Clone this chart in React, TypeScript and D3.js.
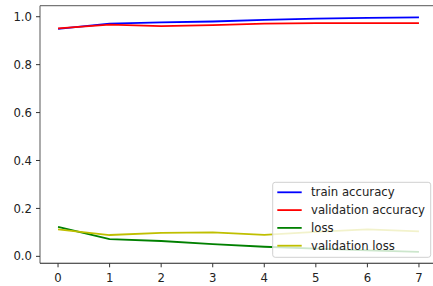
import React from "react";
import * as d3 from "d3";

// epochs and history values
const epochs = [0, 1, 2, 3, 4, 5, 6, 7];
const trainAcc = [0.949, 0.971, 0.976, 0.98, 0.987, 0.992, 0.995, 0.997];
const valAcc = [0.951, 0.967, 0.961, 0.965, 0.971, 0.973, 0.973, 0.973];
const loss = [0.123, 0.072, 0.064, 0.051, 0.04, 0.032, 0.025, 0.019];
const valLoss = [0.1125, 0.089, 0.098, 0.1, 0.09, 0.1025, 0.1125, 0.104];
const yTicks = [0, 0.2, 0.4, 0.6, 0.8, 1.0];
const seriesNames = ["train accuracy", "validation accuracy", "loss", "validation loss"];
const seriesColors = ["#0000ff", "#ff0000", "#008000", "#bfbf00"];

export default function App() {
  const width = 433;
  const height = 286;
  const left = 40;
  const right = 437;
  const top = 5.7;
  const bottom = 263.3;
  const font = "DejaVu Sans, sans-serif";
  const fs = 11.7;

  const x = d3.scaleLinear().domain([-0.35, 7.35]).range([left, right]);
  const y = d3.scaleLinear().domain([-0.029, 1.046]).range([bottom, top]);

  const line = d3
    .line<number>()
    .x((_, i) => x(epochs[i]))
    .y((d) => y(d));

  const series = [trainAcc, valAcc, loss, valLoss];

  // legend box
  const lg = { x: 272.7, y: 182.3, w: 158, h: 75 };
  const rowStep = 17.8;

  return (
    <svg
      width={width}
      height={height}
      style={{ position: "absolute", left: 0, top: 0, background: "#fff" }}
      fontFamily={font}
    >
      {series.map((s, i) => (
        <path
          key={seriesNames[i]}
          d={line(s) || ""}
          fill="none"
          stroke={seriesColors[i]}
          strokeWidth={1.8}
          strokeLinejoin="round"
        />
      ))}

      {/* spines */}
      <line x1={left} x2={right} y1={top} y2={top} stroke="#777" strokeWidth={1.3} />
      <line x1={left} x2={left} y1={top} y2={bottom} stroke="#666" strokeWidth={1.1} />
      <line x1={left} x2={right} y1={bottom} y2={bottom} stroke="#222" strokeWidth={1.1} />

      {/* y axis */}
      {yTicks.map((t) => (
        <g key={t} transform={`translate(0,${y(t)})`}>
          <line x1={left - 4} x2={left} stroke="#333" strokeWidth={1} />
          <text x={left - 8} dy="0.35em" textAnchor="end" fontSize={fs} fill="#222">
            {t.toFixed(1)}
          </text>
        </g>
      ))}

      {/* x axis */}
      {epochs.map((t) => (
        <g key={t} transform={`translate(${x(t)},0)`}>
          <line y1={bottom} y2={bottom + 4} stroke="#333" strokeWidth={1} />
          <text y={281.9} textAnchor="middle" fontSize={fs} fill="#222">
            {t}
          </text>
        </g>
      ))}

      {/* legend */}
      <rect
        x={lg.x}
        y={lg.y}
        width={lg.w}
        height={lg.h}
        rx={2.5}
        fill="#fff"
        fillOpacity={0.8}
        stroke="#d0d0d0"
        strokeWidth={1}
      />
      {seriesNames.map((name, i) => {
        const cy = 192.3 + i * rowStep;
        return (
          <g key={name}>
            <line
              x1={277.3}
              x2={301.7}
              y1={cy}
              y2={cy}
              stroke={seriesColors[i]}
              strokeWidth={1.8}
            />
            <text x={311} y={cy} dy="0.35em" fontSize={fs} fill="#222">
              {name}
            </text>
          </g>
        );
      })}
    </svg>
  );
}
